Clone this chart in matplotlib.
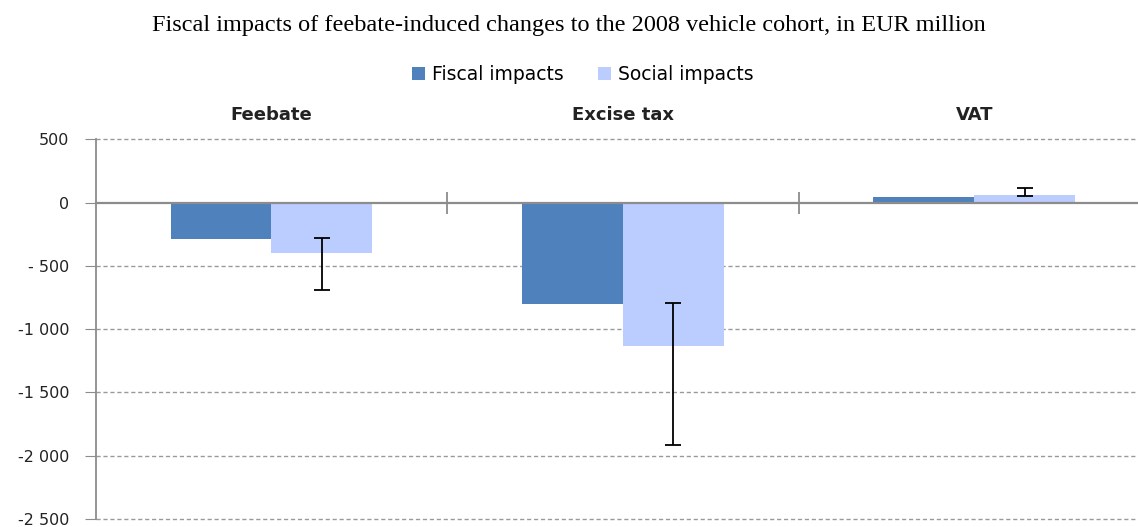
import numpy as np
import matplotlib
matplotlib.use('Agg')
import matplotlib.pyplot as plt
from matplotlib.ticker import FuncFormatter

categories = ['Feebate', 'Excise tax', 'VAT']
fiscal = [-285, -800, 42]
social = [-400, -1130, 63]
social_low = [-690, -1915, 50]
social_high = [-280, -795, 115]
series_names = ['Fiscal impacts', 'Social impacts']
title = 'Fiscal impacts of feebate-induced changes to the 2008 vehicle cohort, in EUR million'

fiscal_color = '#4F81BD'
social_color = '#BBCCFF'
axis_gray = '#8C8C8C'

fig = plt.figure(figsize=(11.38, 5.27), dpi=100)
ax = fig.add_axes([0.0841, 0.0152, 0.9264, 0.7201])

x = np.arange(len(categories))
w = 0.287
ax.bar(x - w / 2, fiscal, w, color=fiscal_color, label=series_names[0], zorder=3)
ax.bar(x + w / 2, social, w, color=social_color, label=series_names[1], zorder=3)

yerr = [np.array(social) - np.array(social_low),
        np.array(social_high) - np.array(social)]
ax.errorbar(x + w / 2, social, yerr=yerr, fmt='none', ecolor='black',
            elinewidth=1.3, capsize=6, capthick=1.3, zorder=4)

ax.set_xlim(-0.5, len(categories) - 0.5)
ax.set_ylim(-2500, 500)
ax.set_yticks(np.arange(-2500, 501, 500))


def fmt(v, pos):
    v = int(round(v))
    s = '{:,}'.format(abs(v)).replace(',', ' ')
    if v < 0:
        return '- ' + s if abs(v) < 1000 else '-' + s
    return s


ax.yaxis.set_major_formatter(FuncFormatter(fmt))
ax.tick_params(axis='y', direction='out', length=8, color=axis_gray,
               labelsize=11.5, pad=11, labelcolor='#222222')
ax.set_xticks(x[:-1] + 0.5)
ax.set_xticklabels([])
ax.tick_params(axis='x', direction='inout', length=16, color=axis_gray, width=1.3)

for v in np.arange(-2500, 501, 500):
    if v != 0:
        ax.axhline(v, color='#9A9A9A', linestyle=(0, (3, 2)), linewidth=1,
                   zorder=1, clip_on=False)

ax.spines['bottom'].set_position(('data', 0))
ax.spines['bottom'].set_color(axis_gray)
ax.spines['bottom'].set_linewidth(1.6)
ax.spines['bottom'].set_zorder(5)
ax.spines['left'].set_color(axis_gray)
ax.spines['left'].set_linewidth(1.3)
ax.spines['top'].set_visible(False)
ax.spines['right'].set_visible(False)

for i, c in enumerate(categories):
    ax.text(i, 697, c, ha='center', va='center', fontsize=13,
            fontweight='bold', color='#222222', clip_on=False)

ax.legend(loc='center', bbox_to_anchor=(0.462, 1.17), ncol=2, frameon=False,
          fontsize=13.5, handlelength=0.7, handleheight=0.7, handletextpad=0.4,
          columnspacing=1.8, borderaxespad=0)

fig.text(0.5, 0.952, title, ha='center', va='center', fontsize=17.5,
         family='Liberation Serif')

fig.savefig('out.png', dpi=100)
